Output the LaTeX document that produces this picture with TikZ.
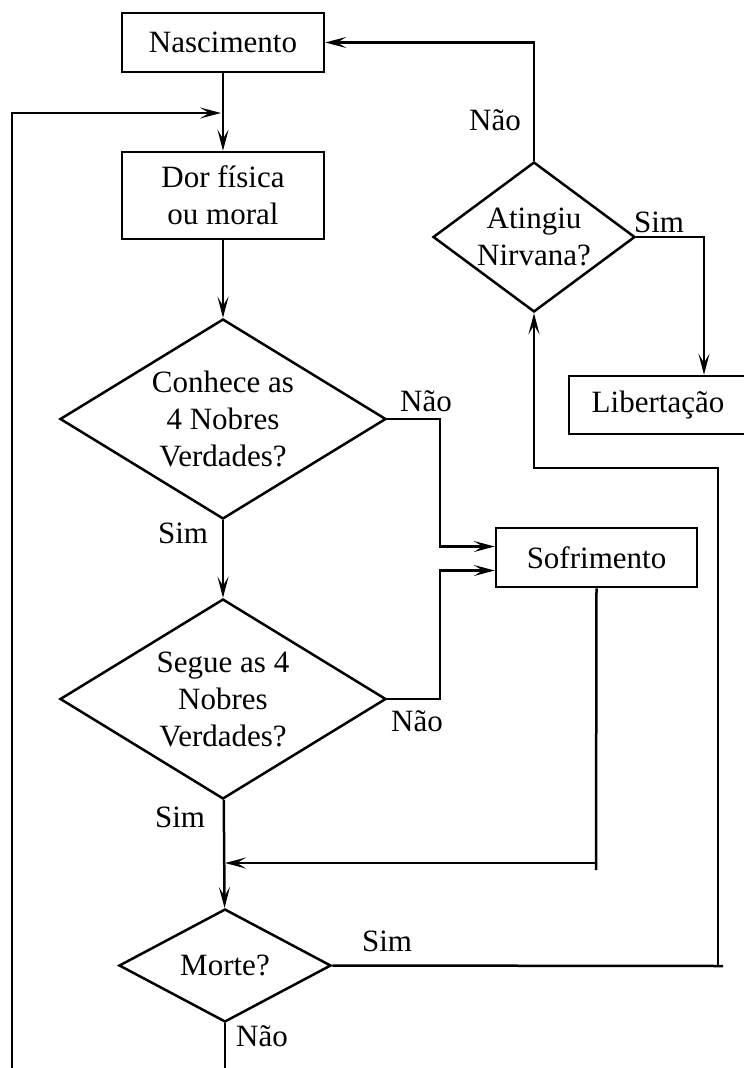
\documentclass[tikz,border=0pt]{standalone}
\usepackage{fontspec}
\setmainfont{Liberation Serif}
\usetikzlibrary{shapes.geometric,arrows.meta}

\begin{document}
\begin{tikzpicture}[x=1pt,y=-1pt,line width=2.5pt,
  font=\fontsize{31}{37}\selectfont,
  caixa/.style={draw,rectangle,inner sep=0pt,align=center},
  losango/.style={draw,diamond,inner sep=0pt},
  texto/.style={label={[align=center,inner sep=0pt]center:#1}},
  seta/.style={-{Stealth[length=21pt,width=11pt,inset=9pt]}},
  rotulo/.style={inner sep=0pt}]
  \useasboundingbox (0,0) rectangle (744,1068);
  % caixas e decisoes
  \node[caixa,minimum width=202pt,minimum height=59pt] (nasc) at (223,42.5) {Nascimento};
  \node[caixa,minimum width=202pt,minimum height=87pt] (dor) at (223,195.5) {Dor física\\ou moral};
  \node[losango,minimum width=326pt,minimum height=200pt,
    texto={Conhece as\\4 Nobres\\Verdades?}] (conhece) at (223,419) {};
  \node[losango,minimum width=326pt,minimum height=200pt,
    texto={Segue as 4\\Nobres\\Verdades?}] (segue) at (223,699) {};
  \node[losango,minimum width=212pt,minimum height=113pt,texto={Morte?}] (morte) at (225,965.5) {};
  \node[losango,minimum width=202pt,minimum height=150pt,
    texto={Atingiu\\Nirvana?}] (nirvana) at (534,237) {};
  \node[caixa,minimum width=201pt,minimum height=59pt] (sofr) at (596.5,557.5) {Sofrimento};
  \node[caixa,minimum width=178pt,minimum height=58pt] (libert) at (658,405) {Libertação};
  % pontos auxiliares
  \coordinate (loopbot) at (12,1070);
  \coordinate (loopin) at (221,113);
  \coordinate (nao1) at (440,419);
  \coordinate (nao2) at (440,699);
  \coordinate (sofrbot) at (596,870);
  \coordinate (sofrin) at (596,863);
  \coordinate (retorno) at (225,863);
  \coordinate (morteR) at (723,966);
  \coordinate (subida) at (718,966);
  \coordinate (morteN) at (225,1070);
  \coordinate (simR) at (704,237);
  % ligacoes
  \draw[seta] (nasc) -- (dor);
  \draw[seta] (loopbot) |- (loopin);
  \draw[seta] (dor) -- (conhece);
  \draw[seta] (conhece) -- (segue);
  \draw[seta] (conhece.east) -- (nao1) |- ([yshift=11pt]sofr.west);
  \draw[seta] (segue.east) -- (nao2) |- ([yshift=-13pt]sofr.west);
  \draw (sofr.south) -- (sofrbot);
  \draw[seta] (sofrin) -- (retorno);
  \draw[seta] (segue) -- (morte);
  \draw (morte.east) -- (morteR);
  \draw[seta] (subida) |- (534,468) -- (nirvana.south);
  \draw (morte.south) -- (morteN);
  \draw[seta] (nirvana.north) |- (nasc.east);
  \draw[seta] (nirvana.east) -- (simR) -- (simR |- libert.north);
  % rotulos
  \node[rotulo] (l1) at (426,401) {Não};
  \node[rotulo] (l2) at (183,533) {Sim};
  \node[rotulo] (l3) at (417,721) {Não};
  \node[rotulo] (l4) at (180,817) {Sim};
  \node[rotulo] (l5) at (387,941) {Sim};
  \node[rotulo] (l6) at (262,1036) {Não};
  \node[rotulo] (l7) at (495,120) {Não};
  \node[rotulo] (l8) at (659,222) {Sim};
\end{tikzpicture}
\end{document}
